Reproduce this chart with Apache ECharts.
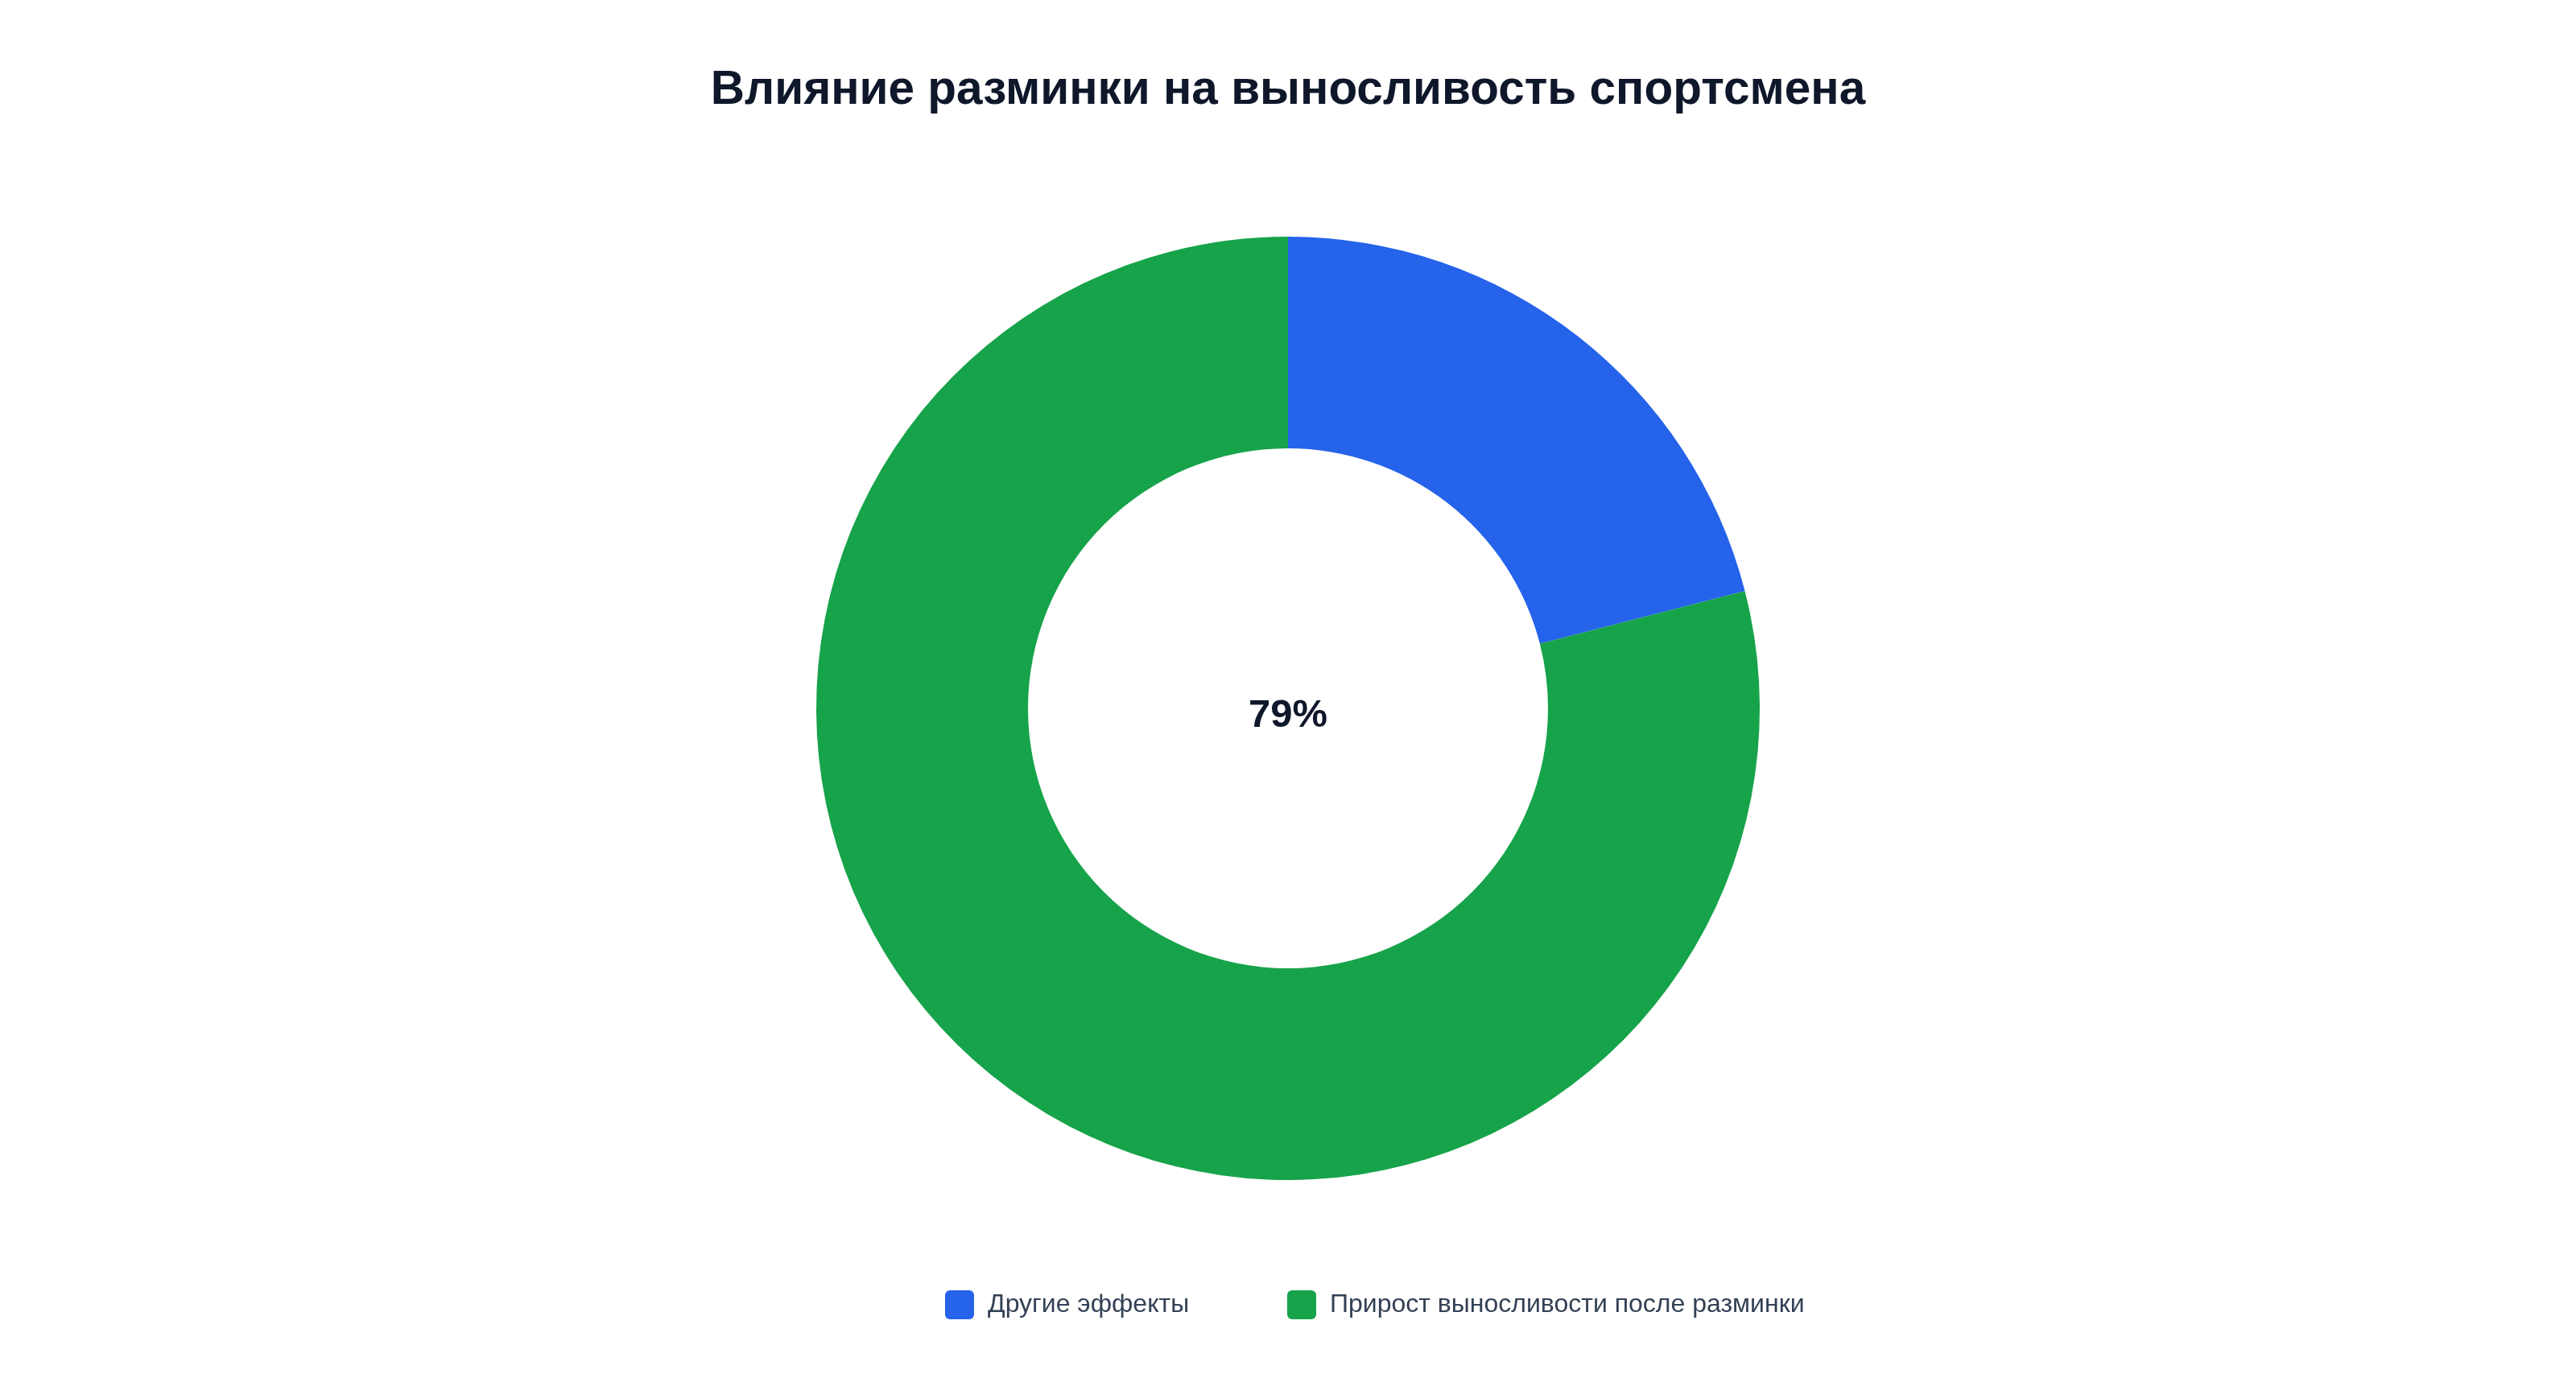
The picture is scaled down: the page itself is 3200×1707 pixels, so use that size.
<!DOCTYPE html>
<html>
<head>
<meta charset="utf-8">
<script src="https://cdn.jsdelivr.net/npm/echarts@6/dist/echarts.min.js"></script>
<style>
html,body{margin:0;padding:0;background:#ffffff;}
#chart{width:3200px;height:1707px;}
</style>
</head>
<body>
<div id="chart"></div>
<script>
const titleText = 'Влияние разминки на выносливость спортсмена';
const categories = ['Другие эффекты', 'Прирост выносливости после разминки'];
const values = [21, 79];
const colors = ['#2563EB', '#16A34A'];
const highlightIndex = 1;

const total = values.reduce((a, b) => a + b, 0);
const centerText = Math.round(values[highlightIndex] / total * 100) + '%';
const FONT = '"Liberation Sans", Arial, sans-serif';

const chart = echarts.init(document.getElementById('chart'), null, {renderer: 'canvas'});

const legendLefts = [1169, 1594];
const legends = categories.map((name, i) => ({
  show: true,
  left: legendLefts[i],
  top: 1598,
  orient: 'horizontal',
  itemWidth: 36,
  itemHeight: 36,
  icon: 'path://M6,0 H30 A6,6 0 0 1 36,6 V30 A6,6 0 0 1 30,36 H6 A6,6 0 0 1 0,30 V6 A6,6 0 0 1 6,0 Z',
  data: [name],
  selectedMode: false,
  textStyle: {fontFamily: FONT, fontSize: 32, color: '#334155', padding: [0, 0, 0, 12]}
}));

chart.setOption({
  backgroundColor: '#ffffff',
  animation: false,
  color: colors,
  title: [
    {
      text: titleText,
      left: 'center',
      top: 78,
      textStyle: {fontFamily: FONT, fontSize: 58.5, fontWeight: 'bold', color: '#0F172A'}
    },
    {
      text: centerText,
      left: 'center',
      top: 860,
      textStyle: {fontFamily: FONT, fontSize: 49, fontWeight: 'bold', color: '#0F172A'}
    }
  ],
  legend: legends,
  series: [{
    type: 'pie',
    center: [1600, 880],
    radius: [323, 586],
    startAngle: 90,
    clockwise: true,
    avoidLabelOverlap: false,
    label: {show: false},
    labelLine: {show: false},
    emphasis: {disabled: true},
    itemStyle: {borderWidth: 0},
    data: categories.map((name, i) => ({name: name, value: values[i], itemStyle: {color: colors[i]}}))
  }]
});
</script>
</body>
</html>
